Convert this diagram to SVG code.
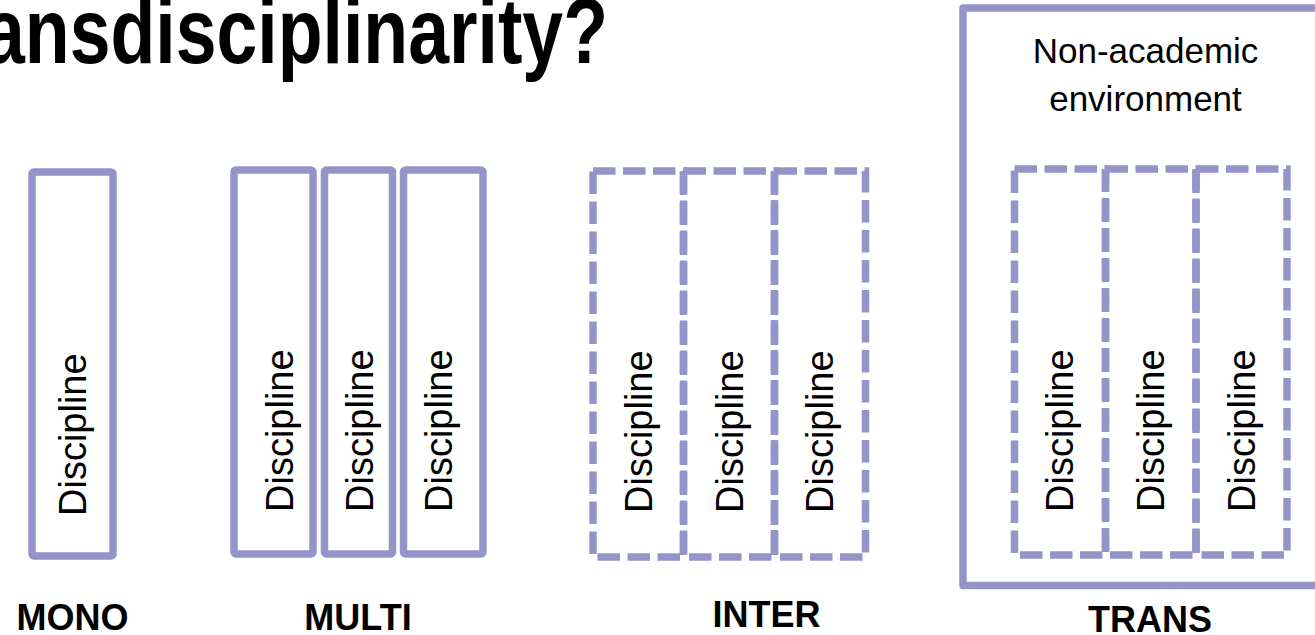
<svg xmlns="http://www.w3.org/2000/svg" width="1315" height="635" viewBox="0 0 1315 635">
<style>
.box{fill:none;stroke:#9494C9;stroke-width:7.5;stroke-linejoin:round}
.dash{fill:none;stroke:#9494C9;stroke-width:7.5;stroke-dasharray:22.5 7.5}
.disc{font-family:"Liberation Sans",Arial,sans-serif;font-size:38px;fill:#000}
.lbl{font-family:"Liberation Sans",Arial,sans-serif;font-size:36px;font-weight:bold;fill:#000;text-anchor:middle}
.env{font-family:"Liberation Sans",Arial,sans-serif;font-size:35px;fill:#000;text-anchor:middle}
.title{font-family:"Liberation Sans",Arial,sans-serif;font-size:92px;font-weight:bold;fill:#000}
</style>
<rect width="1315" height="635" fill="#fff"/>
<g id="title">
<text class="title" x="-16" y="63" textLength="624" lengthAdjust="spacingAndGlyphs">ansdisciplinarity?</text>
</g>
<g id="mono">
<rect class="box" x="32" y="172" width="81" height="384" rx="2"/>
<text class="disc" transform="translate(86,516) rotate(-90)">Discipline</text>
<text class="lbl" x="72.5" y="630">MONO</text>
</g>
<g id="multi">
<rect class="box" x="234" y="170" width="79" height="384" rx="2"/>
<rect class="box" x="324.5" y="170" width="68" height="384" rx="2"/>
<rect class="box" x="403.5" y="170" width="79.5" height="384" rx="2"/>
<text class="disc" transform="translate(293,512) rotate(-90)">Discipline</text>
<text class="disc" transform="translate(373,512) rotate(-90)">Discipline</text>
<text class="disc" transform="translate(452,512) rotate(-90)">Discipline</text>
<text class="lbl" x="358" y="630">MULTI</text>
</g>
<g id="inter">
<rect class="dash" x="593" y="171" width="90.5" height="386"/>
<rect class="dash" x="683.5" y="171" width="91" height="386"/>
<rect class="dash" x="774.5" y="171" width="91" height="386"/>
<text class="disc" transform="translate(652,513) rotate(-90)">Discipline</text>
<text class="disc" transform="translate(743,513) rotate(-90)">Discipline</text>
<text class="disc" transform="translate(833,513) rotate(-90)">Discipline</text>
<text class="lbl" x="766.5" y="627">INTER</text>
</g>
<g id="trans">
<rect class="box" x="963" y="8" width="400" height="577.5"/>
<text class="env" x="1145.5" y="63">Non-academic</text>
<text class="env" x="1145.5" y="111">environment</text>
<rect class="dash" x="1014.5" y="169" width="91" height="386"/>
<rect class="dash" x="1105.5" y="169" width="90.5" height="386"/>
<rect class="dash" x="1196" y="169" width="91" height="386"/>
<text class="disc" transform="translate(1073,512) rotate(-90)">Discipline</text>
<text class="disc" transform="translate(1164,512) rotate(-90)">Discipline</text>
<text class="disc" transform="translate(1255,512) rotate(-90)">Discipline</text>
<text class="lbl" x="1150" y="632">TRANS</text>
</g>
</svg>
